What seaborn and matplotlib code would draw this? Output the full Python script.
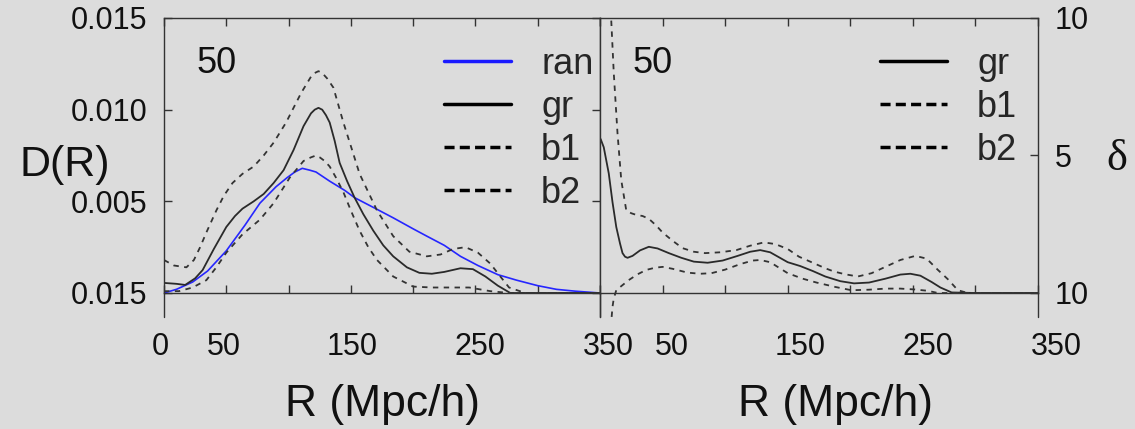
import seaborn as sns
import matplotlib.pyplot as plt
from matplotlib.lines import Line2D
from matplotlib.transforms import ScaledTranslation

# left panel, D(R)
r_ran = [0, 10, 23, 35, 50, 65, 77, 90, 99, 105, 111, 117, 122, 133, 145, 153, 170, 184, 200, 211, 225, 238, 252, 268, 283,
         300, 315, 330, 350]
d_ran = [0, 0.0002, 0.0006, 0.0012, 0.0023, 0.0037, 0.0049, 0.0058, 0.0063, 0.0066, 0.0068, 0.0067, 0.0066, 0.0061, 0.0056,
         0.0052, 0.0046, 0.0041, 0.0035, 0.0031, 0.0026, 0.0020, 0.0015, 0.0010, 0.0007, 0.0004, 0.0002, 0.0001, 0.0]
r_gr = [0, 10, 17, 25, 31, 40, 50, 57, 63, 72, 80, 88, 96, 104, 112, 118, 121, 124, 127, 130, 133, 137, 141, 147, 153, 160,
        168, 176, 184, 195, 205, 215, 225, 238, 248, 258, 268, 278, 290, 350]
d_gr = [0.00055, 0.0005, 0.00044, 0.0008, 0.00125, 0.0024, 0.0036, 0.0042, 0.0046, 0.0050, 0.0054, 0.0060, 0.0067, 0.0078,
        0.0091, 0.0098, 0.0100, 0.0101, 0.0100, 0.0097, 0.0093, 0.0083, 0.0071, 0.0061, 0.0052, 0.0043, 0.0034, 0.0026,
        0.0020, 0.0014, 0.0011, 0.00105, 0.00115, 0.00135, 0.0013, 0.0009, 0.0004, 0.0, 0.0, 0.0]
r_b1 = [0, 8, 18, 24, 29, 34, 42, 48, 55, 63, 72, 80, 88, 98, 110, 118, 121, 124, 127, 131, 136, 144, 151, 157, 164, 171,
        184, 197, 211, 222, 232, 242, 252, 262, 270, 277, 290, 350]
d_b1 = [0.0018, 0.0015, 0.0014, 0.0018, 0.0025, 0.0033, 0.0045, 0.0053, 0.0060, 0.0065, 0.0069, 0.0075, 0.0082, 0.0093,
        0.0109, 0.0118, 0.0120, 0.0121, 0.0120, 0.0117, 0.0112, 0.0093, 0.0078, 0.0065, 0.0055, 0.0045, 0.0031, 0.00225,
        0.0020, 0.0021, 0.0024, 0.0025, 0.0022, 0.0016, 0.0009, 0.0003, 0.0, 0.0]
r_b2 = [0, 12, 23, 34, 42, 50, 63, 77, 88, 101, 112, 118, 122, 125, 129, 133, 138, 144, 150, 157, 164, 171, 184, 200, 215,
        230, 245, 262, 277, 350]
d_b2 = [0.0001, 0.0001, 0.0003, 0.0007, 0.0014, 0.0022, 0.0032, 0.0040, 0.0049, 0.0063, 0.0072, 0.0074, 0.0075, 0.0074,
        0.0072, 0.0069, 0.0063, 0.0055, 0.0045, 0.0034, 0.0025, 0.0018, 0.0009, 0.00035, 0.0003, 0.0003, 0.0003, 0.0001, 0.0,
        0.0]

# right panel, delta
r_gr2 = [0.5, 3, 7, 10, 13, 16, 18, 20, 22, 26, 32, 39, 46, 55, 65, 75, 86, 98, 110, 120, 128, 136, 143, 150, 160, 170,
         180, 192, 203, 215, 228, 240, 248, 256, 265, 272, 281, 300, 350]
dl_gr2 = [5.6, 5.3, 4.35, 3.3, 2.4, 1.8, 1.45, 1.32, 1.28, 1.35, 1.55, 1.68, 1.62, 1.45, 1.28, 1.14, 1.1, 1.18, 1.35, 1.5,
          1.56, 1.48, 1.3, 1.12, 0.98, 0.8, 0.6, 0.43, 0.35, 0.38, 0.52, 0.67, 0.7, 0.63, 0.4, 0.2, 0.02, 0, 0]
r_b1r = [4, 7, 9, 11, 14, 17, 21, 25, 29, 34, 39, 45, 50, 58, 66, 75, 84, 96, 109, 120, 131, 140, 150, 159, 170, 180, 187,
         196, 206, 217, 228, 240, 252, 261, 270, 278, 286, 294, 350]
dl_b1r = [14, 11, 9.9, 8, 5.8, 4.1, 3.0, 2.9, 2.84, 2.8, 2.7, 2.45, 2.2, 1.9, 1.63, 1.5, 1.45, 1.48, 1.56, 1.72, 1.84, 1.78,
          1.6, 1.32, 1.1, 0.9, 0.78, 0.68, 0.6, 0.72, 0.95, 1.2, 1.35, 1.25, 0.84, 0.5, 0.1, 0.0, 0.0]
r_b2r = [9.3, 10, 11, 13, 17, 23, 30, 37, 44, 50, 58, 70, 80, 89, 100, 112, 122, 128, 136, 150, 162, 173, 188, 201, 215, 228,
         240, 251, 262, 270, 350]
dl_b2r = [-0.87, -0.5, -0.2, 0.1, 0.25, 0.47, 0.68, 0.84, 0.92, 0.95, 0.88, 0.74, 0.7, 0.72, 0.85, 1.05, 1.18, 1.2, 1.12,
          0.72, 0.52, 0.38, 0.22, 0.1, 0.12, 0.16, 0.16, 0.13, 0.08, 0.0, 0.0]

xticks = [0, 50, 100, 150, 200, 250, 300, 350]
xlab_left = ['0', '50', '', '150', '', '250', '', '350']
xlab_right = ['', '50', '', '150', '', '250', '', '350']
yticks_left = [0, 0.005, 0.010, 0.015]
ylab_left = ['0.015', '0.005', '0.010', '0.015']
yticks_right = [0, 5, 10]
ylab_right = ['10', '5', '10']

sns.set_style('ticks')
bg = '#dcdcdc'
plt.rcParams['font.family'] = ['Liberation Sans', 'DejaVu Sans']
plt.rcParams['axes.edgecolor'] = '#333333'

fig = plt.figure(figsize=(11.35, 4.29), dpi=100, facecolor=bg)
ax1 = fig.add_axes([164 / 1135, 136 / 429, 436 / 1135, 275 / 429], facecolor=bg)
ax2 = fig.add_axes([600 / 1135, 136 / 429, 438 / 1135, 275 / 429], facecolor=bg)

solid = dict(color='#2a2a2a', lw=1.3)
dash = dict(color='#333333', lw=1.3, dashes=(3, 3))

sns.lineplot(x=r_ran, y=d_ran, ax=ax1, color='#2626ff', lw=1.2, sort=False)
sns.lineplot(x=r_gr, y=d_gr, ax=ax1, sort=False, **solid)
sns.lineplot(x=r_b1, y=d_b1, ax=ax1, sort=False, **dash)
sns.lineplot(x=r_b2, y=d_b2, ax=ax1, sort=False, **dash)

sns.lineplot(x=r_gr2, y=dl_gr2, ax=ax2, sort=False, **solid)
sns.lineplot(x=r_b1r, y=dl_b1r, ax=ax2, sort=False, **dash)
l = sns.lineplot(x=r_b2r, y=dl_b2r, ax=ax2, sort=False, **dash).lines[-1]
l.set_clip_on(False)

ax1.set_xlim(0, 350)
ax1.set_ylim(0, 0.015)
ax2.set_xlim(0, 350)
ax2.set_ylim(0, 10)

tick_kw = dict(direction='in', length=6, width=1, color='#333333', labelsize=22, labelcolor='#111111')
ax1.set_xticks(xticks, xlab_left)
ax1.set_yticks(yticks_left, ylab_left)
ax1.tick_params(axis='x', top=True, pad=28, **tick_kw)
ax1.tick_params(axis='y', right=True, pad=12, **tick_kw)

ax2.set_xticks(xticks, xlab_right)
ax2.set_yticks(yticks_right, ylab_right)
ax2.tick_params(axis='x', top=True, pad=28, **tick_kw)
ax2.tick_params(axis='y', left=False, right=True, labelleft=False, labelright=True, pad=12, **tick_kw)

# the x tick labels of the original sit on a slightly wider scale than the ticks
for ax, base, k in ((ax1, -4, 0.0343), (ax2, 8, 0.0286)):
    for t, r in zip(ax.xaxis.get_major_ticks(), xticks):
        dx = (base + k * r) / 100
        t.label1.set_transform(t.label1.get_transform() + ScaledTranslation(dx, 0, fig.dpi_scale_trans))

for ax in (ax1, ax2):
    for s in ax.spines.values():
        s.set_linewidth(1)
    # vertical frame lines run a bit below the x axis
    for xx in (0, 1):
        ax.plot([xx, xx], [0, -24 / 275], transform=ax.transAxes, clip_on=False, color='#333333', lw=1)
    ax.set_xlabel('R (Mpc/h)', fontsize=32, labelpad=15, color='#111111')
    ax.text(0.121, 0.835, '50', transform=ax.transAxes, fontsize=26, ha='center', va='center', color='#111111')

ax2.xaxis.set_label_coords(0.537, -0.33)
ax1.xaxis.set_label_coords(0.502, -0.33)

ax1.set_ylabel('D(R)', fontsize=31, rotation=0, ha='center', va='center', color='#111111')
ax1.yaxis.set_label_coords(-0.228, 0.465)
ax2.yaxis.set_label_position('right')
ax2.set_ylabel('δ', fontsize=32, rotation=0, ha='center', va='center', family='Liberation Serif', color='#111111')
ax2.yaxis.set_label_coords(1.18, 0.487)

hd = (0, (2.9, 1.5))
h_ran = Line2D([], [], color='#1a1aff', lw=2.5)
h_gr = Line2D([], [], color='black', lw=2.5)
h_b1 = Line2D([], [], color='black', lw=2.5, linestyle=hd)
h_b2 = Line2D([], [], color='black', lw=2.5, linestyle=hd)
leg_kw = dict(loc='upper left', frameon=False, fontsize=26, handlelength=1.86, handletextpad=0.83,
              labelspacing=0.22, borderpad=0, borderaxespad=0)
ax1.legend([h_ran, h_gr, h_b1, h_b2], ['ran', 'gr', 'b1', 'b2'], bbox_to_anchor=(0.642, 0.895), **leg_kw)
ax2.legend([h_gr, h_b1, h_b2], ['gr', 'b1', 'b2'], bbox_to_anchor=(0.639, 0.895), **leg_kw)

fig.savefig('out.png', dpi=100, facecolor=bg)
